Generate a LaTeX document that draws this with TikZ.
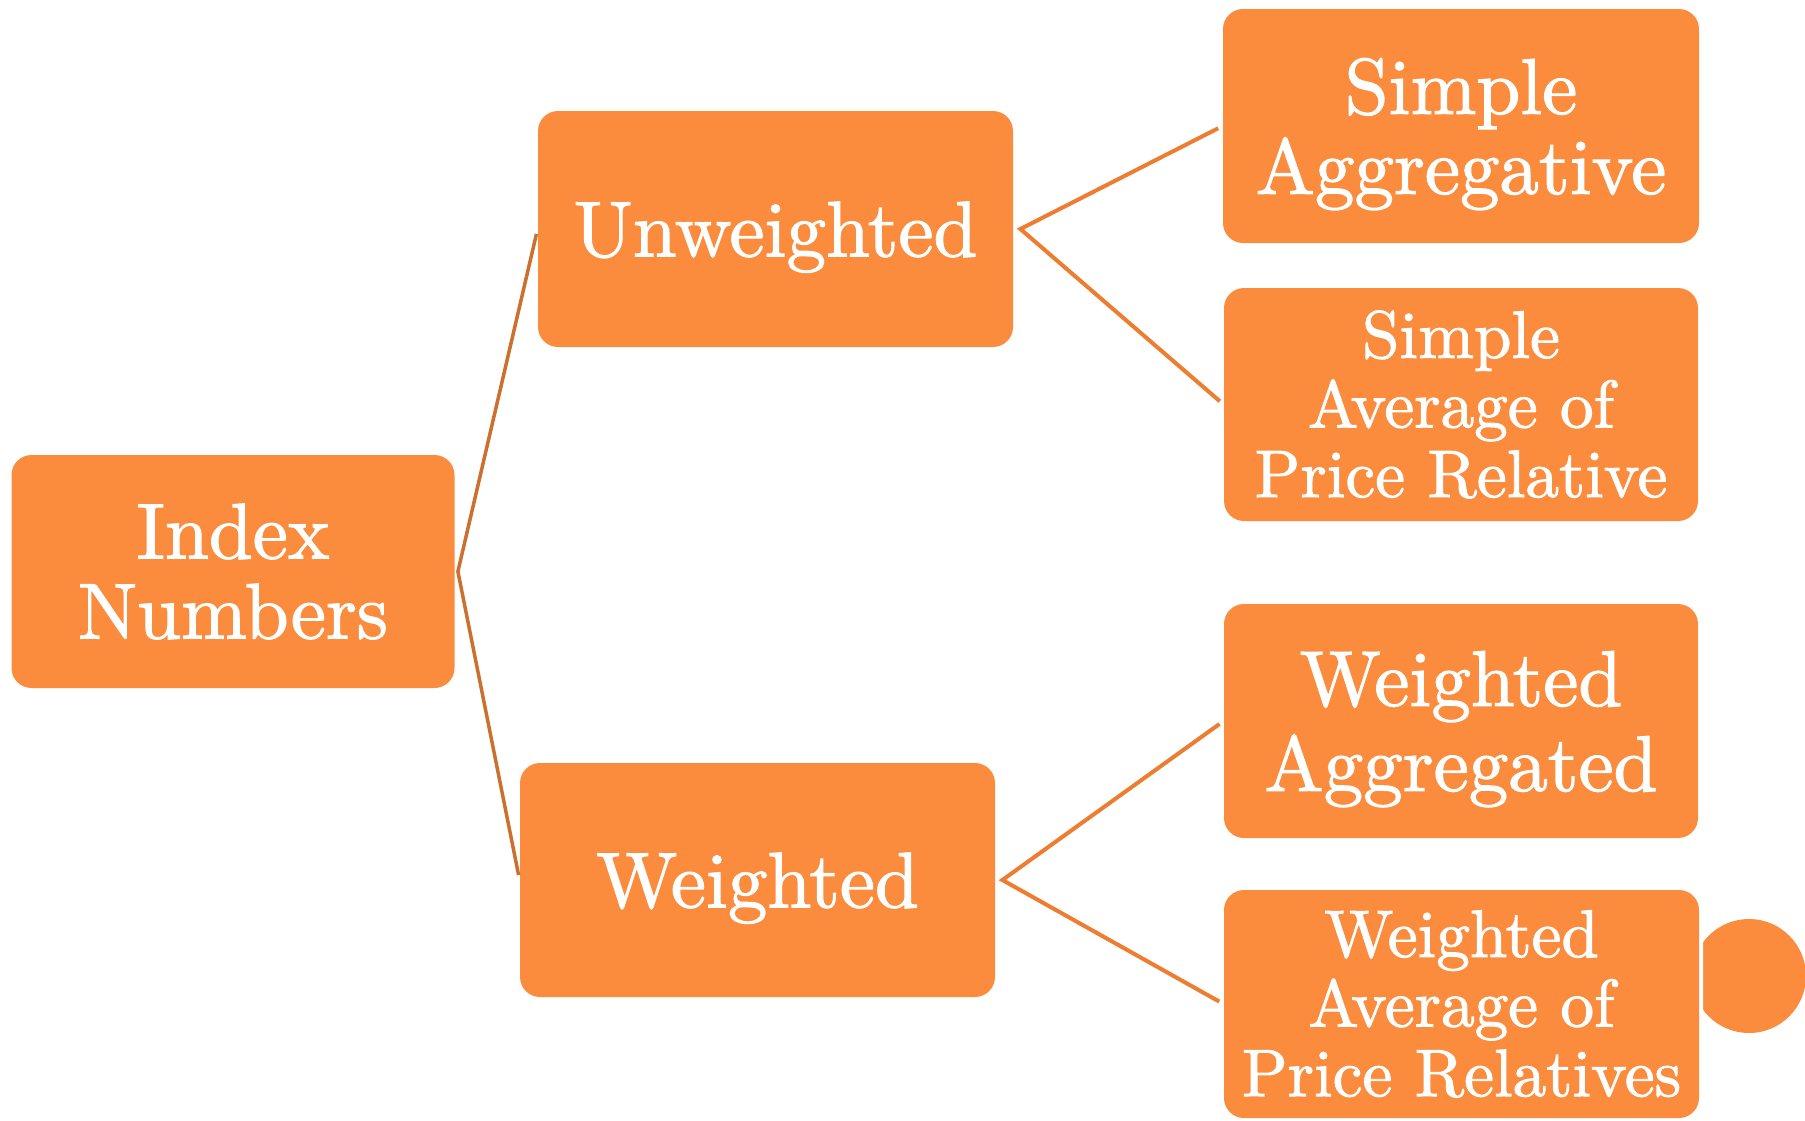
\documentclass[tikz,border=0pt]{standalone}
\usepackage{fontspec}
\setmainfont{lmroman10-regular}[Extension=.otf, FakeBold=1.4]
\definecolor{boxfill}{RGB}{251,140,61}
\definecolor{linkL}{RGB}{204,112,48}
\definecolor{linkR}{RGB}{237,125,49}
\newcommand\nodp[1]{\raisebox{0pt}[\height][0pt]{#1}}
\begin{document}
\begin{tikzpicture}[x=0.5pt,y=-0.5pt,
  box/.style={rectangle, rounded corners=10pt, fill=boxfill, text=white, align=center, inner sep=0pt},
  big/.style={font=\fontsize{39.5}{40}\selectfont},
  mid/.style={font=\fontsize{33.6}{34.8}\selectfont},
  linkl/.style={draw=linkL, line width=1.75pt, shorten <=2.5pt, shorten >=2.5pt},
  linkr/.style={draw=linkR, line width=2pt, shorten <=2.5pt, shorten >=2.5pt}]
\useasboundingbox (0,0) rectangle (1805,1120);
\fill[boxfill] (1749,976) circle[radius=28.5pt];
\fill[white, rounded corners=12pt] (1220,886) rectangle (1703,1122);
\node[box,big,minimum width=221.5pt,minimum height=116.5pt] (idx) at (233,571.5) {Index\\Numbers};
\node[box,big,minimum width=237.5pt,minimum height=118pt] (unw) at (775.5,229) {\nodp{Unweighted}};
\node[box,big,minimum width=237.5pt,minimum height=117pt] (wei) at (757.5,880) {\nodp{Weighted}};
\node[box,big,minimum width=238pt,minimum height=117pt] (sa) at (1461,126) {Simple\\\nodp{Aggregative}};
\node[box,mid,minimum width=237pt,minimum height=116.5pt] (sap) at (1461,404.5) {Simple\\Average of\\Price Relative};
\node[box,big,minimum width=237pt,minimum height=117pt,font=\fontsize{39.5}{42.5}\selectfont] (wa) at (1461,721) {Weighted\\\nodp{Aggregated}};
\node[box,mid,minimum width=237.5pt,minimum height=114pt] (wap) at (1461.5,1004) {Weighted\\Average of\\Price Relatives};
\coordinate[xshift=1.5pt] (idxR) at (idx.east);
\coordinate[xshift=3.5pt] (unwR) at (unw.east);
\coordinate[xshift=3.5pt] (weiR) at (wei.east);
\draw[linkl] (unw.west) -- (idxR) -- (wei.west);
\draw[linkr] (sa.west) -- (unwR) -- (sap.west);
\draw[linkr] (wa.west) -- (weiR) -- (wap.west);
\end{tikzpicture}
\end{document}
